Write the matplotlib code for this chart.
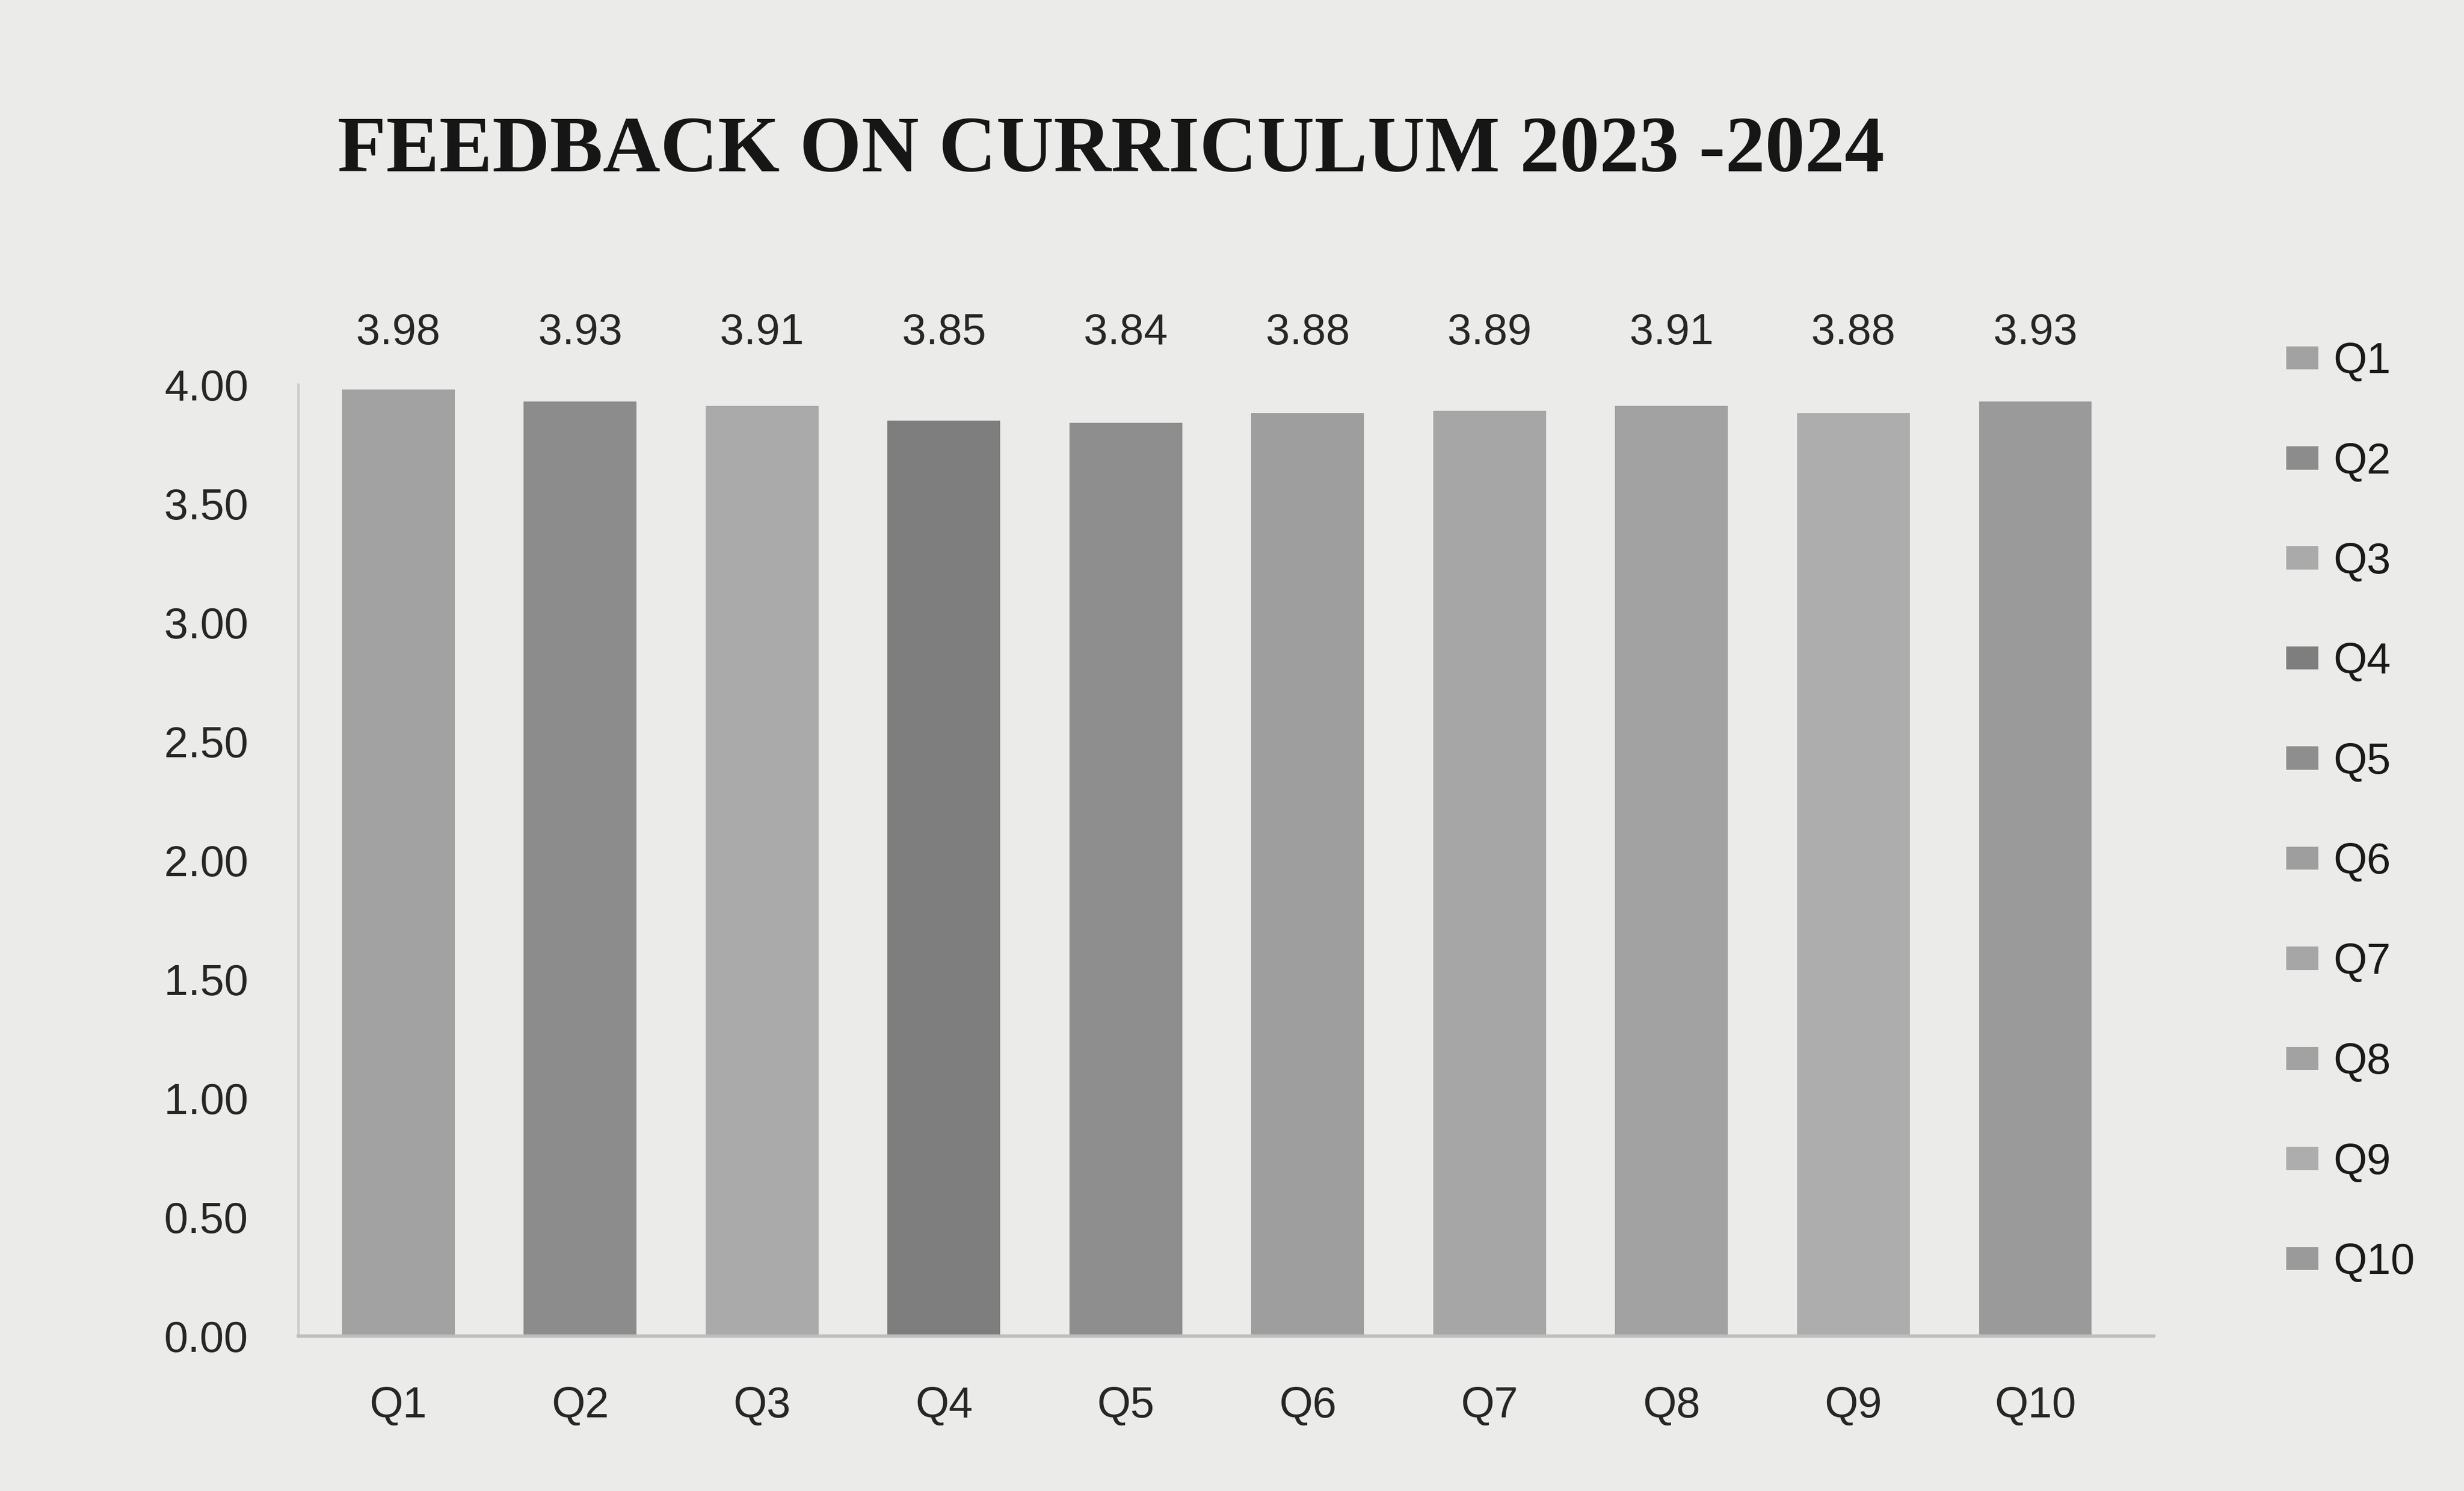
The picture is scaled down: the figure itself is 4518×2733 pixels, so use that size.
import matplotlib

matplotlib.use("Agg")
import matplotlib.pyplot as plt
from matplotlib.patches import Patch

# values
questions = ["Q1", "Q2", "Q3", "Q4", "Q5", "Q6", "Q7", "Q8", "Q9", "Q10"]
scores = [3.98, 3.93, 3.91, 3.85, 3.84, 3.88, 3.89, 3.91, 3.88, 3.93]
yticks = [0.0, 0.5, 1.0, 1.5, 2.0, 2.5, 3.0, 3.5, 4.0]

# printed greys, one per question
grays = ["#a2a2a2", "#8c8c8c", "#aaaaaa", "#7e7e7e", "#8e8e8e",
         "#9e9e9e", "#a6a6a6", "#a2a2a2", "#adadad", "#9a9a9a"]

bg = "#ebebe9"
txt = "#262626"

fig = plt.figure(figsize=(15.06, 9.11), dpi=300, facecolor=bg)
ax = fig.add_axes([0.121, 0.104, 0.753, 0.638])
ax.set_facecolor(bg)

x = range(len(questions))
ax.bar(x, scores, width=0.62, color=grays, edgecolor="none")

for xi, v in zip(x, scores):
    ax.text(xi, 4.13, f"{v:.2f}", ha="center", va="bottom",
            fontsize=19, family="Liberation Sans", color=txt, clip_on=False)

ax.set_ylim(0, 4.0)
ax.set_xlim(-0.55, len(questions) - 0.35)
ax.set_yticks(yticks)
ax.set_yticklabels([f"{t:.2f}" for t in yticks], fontsize=19,
                   family="Liberation Sans", color=txt)
ax.set_xticks(list(x))
ax.set_xticklabels(questions, fontsize=19, family="Liberation Sans", color=txt)
ax.tick_params(axis="both", length=0, pad=22)

for side in ["top", "right"]:
    ax.spines[side].set_visible(False)
ax.spines["left"].set_color("#cfcfcf")
ax.spines["bottom"].set_color("#bdbdbd")
ax.spines["left"].set_linewidth(1.2)
ax.spines["bottom"].set_linewidth(1.5)

fig.text(0.137, 0.898, "FEEDBACK ON CURRICULUM 2023 -2024", fontsize=35,
         fontweight="bold", family="Liberation Serif", color="#161616",
         va="center", ha="left")

handles = [Patch(facecolor=c, edgecolor="none") for c in grays]
leg = fig.legend(handles, questions, loc="upper left", bbox_to_anchor=(0.912, 0.797),
                 frameon=False, handlelength=0.75, handleheight=0.45,
                 handletextpad=0.35, labelspacing=1.37,
                 prop={"family": "Liberation Sans", "size": 19})
for t in leg.get_texts():
    t.set_color("#1a1a1a")

fig.savefig("out.png", dpi=300, facecolor=bg)
